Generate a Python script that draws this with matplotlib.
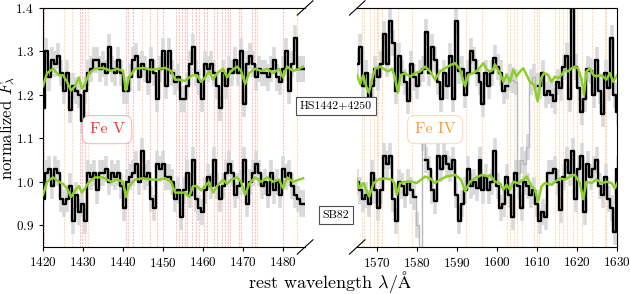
import matplotlib
matplotlib.use('Agg')
import matplotlib.pyplot as plt
import numpy as np

plt.rcParams['font.family'] = 'serif'
plt.rcParams['font.serif'] = ['cmr10', 'DejaVu Serif']
plt.rcParams['mathtext.fontset'] = 'cm'
plt.rcParams['axes.formatter.use_mathtext'] = True

# wavelength grids (rest frame, 0.75 A bins)
wl_left = np.arange(1420.0, 1485.5, 0.75)
wl_right = np.arange(1565.0, 1630.5, 0.75)

# HS1442+4250, Fe V window
hs_left = [1.17, 1.30, 1.24, 1.28, 1.27, 1.29, 1.25, 1.21, 1.25, 1.165, 1.22, 1.21, 1.20, 1.14,
           1.21, 1.25, 1.26, 1.28, 1.28, 1.26, 1.27, 1.25, 1.31, 1.26, 1.25, 1.28, 1.25, 1.21,
           1.21, 1.24, 1.28, 1.29, 1.24, 1.27, 1.26, 1.23, 1.28, 1.25, 1.19, 1.26, 1.30, 1.22,
           1.30, 1.25, 1.23, 1.24, 1.19, 1.19, 1.22, 1.27, 1.31, 1.25, 1.23, 1.19, 1.27, 1.26,
           1.27, 1.25, 1.22, 1.17, 1.25, 1.22, 1.26, 1.25, 1.28, 1.25, 1.30, 1.18, 1.27, 1.29,
           1.27, 1.24, 1.26, 1.25, 1.25, 1.24, 1.26, 1.28, 1.24, 1.23, 1.26, 1.30, 1.21, 1.27,
           1.33, 1.26, 1.26, 1.26]
# SB82, Fe V window
sb_left = [0.96, 1.02, 1.03, 0.99, 1.03, 1.02, 0.96, 0.95, 0.96, 0.99, 0.91, 0.97, 0.93, 0.95,
           0.91, 1.02, 1.01, 1.02, 0.98, 1.02, 1.02, 1.03, 1.00, 1.02, 1.01, 1.02, 0.99, 0.94,
           1.00, 1.01, 1.02, 1.04, 1.00, 1.07, 1.01, 1.02, 0.96, 0.94, 1.04, 1.03, 1.04, 1.01,
           1.01, 1.00, 0.96, 0.98, 0.92, 0.98, 1.02, 0.97, 1.05, 0.96, 0.94, 0.93, 0.98, 1.01,
           0.99, 1.05, 0.99, 0.96, 0.99, 1.02, 1.04, 1.02, 0.97, 0.99, 1.00, 1.05, 0.95, 1.00,
           1.02, 1.04, 1.02, 0.99, 1.00, 0.97, 1.02, 0.98, 1.00, 0.97, 1.03, 1.01, 1.02, 0.99,
           0.97, 0.96, 0.95, 0.95]
# HS1442+4250, Fe IV window
hs_right = [1.27, 1.31, 1.22, 1.25, 1.19, 1.22, 1.26, 1.24, 1.27, 1.34, 1.27, 1.37, 1.32, 1.21,
            1.29, 1.25, 1.23, 1.185, 1.27, 1.24, 1.22, 1.25, 1.26, 1.345, 1.25, 1.31, 1.28, 1.23,
            1.19, 1.25, 1.22, 1.29, 1.19, 1.37, 1.255, 1.26, 1.20, 1.25, 1.30, 1.28, 1.25, 1.23,
            1.18, 1.25, 1.22, 1.25, 1.285, 1.265, 1.25, 1.21, 1.22, 1.24, 1.235, 1.23, 1.02, 1.05,
            1.04, 1.08, 1.23, 1.24, 1.22, 1.22, 1.25, 1.20, 1.21, 1.20, 1.185, 1.23, 1.215, 1.265,
            1.29, 1.19, 1.42, 1.265, 1.215, 1.16, 1.19, 1.26, 1.255, 1.20, 1.28, 1.21, 1.155, 1.25,
            1.215, 1.33, 1.20, 1.16]
# SB82, Fe IV window
sb_right = [1.00, 0.98, 0.96, 0.97, 0.95, 1.02, 0.98, 0.94, 0.98, 1.06, 1.04, 1.06, 0.96, 0.91,
            1.00, 0.99, 0.97, 1.00, 0.98, 0.965, 0.90, 0.80, 1.10, 1.05, 1.03, 0.98, 0.955, 1.06,
            1.03, 1.06, 1.04, 1.03, 1.05, 0.97, 0.91, 0.95, 0.98, 1.03, 0.99, 1.00, 0.985, 1.05,
            0.98, 1.01, 0.98, 1.00, 1.07, 0.99, 0.94, 0.95, 1.01, 0.97, 0.92, 1.02, 0.99, 0.94,
            1.00, 0.99, 0.97, 0.98, 0.95, 0.91, 0.93, 0.92, 1.02, 1.02, 1.03, 1.00, 0.935, 1.01,
            1.05, 1.02, 1.07, 0.96, 1.03, 1.06, 0.93, 1.04, 1.01, 1.03, 1.05, 0.99, 0.97, 1.01,
            0.96, 0.94, 0.885, 1.03]
err_hs = 0.03
err_sb = 0.03

# masked (bad) regions, drawn grey only
mask_hs = (1602.9, 1610.4)
mask_sb = (1579.6, 1581.9)

# model spectra
mod_left_wl = [1420, 1421, 1422.5, 1424, 1425, 1426, 1427, 1428, 1429, 1429.7, 1430.5, 1431.5,
               1433, 1435, 1437, 1438.5, 1440, 1440.7, 1441.5, 1443, 1445, 1447, 1449, 1450.5,
               1452, 1453, 1454, 1455.5, 1456.5, 1457.5, 1458.5, 1459.5, 1460.5, 1461.5, 1462.5,
               1463.5, 1465, 1466, 1467, 1468.5, 1469.5, 1470.5, 1471.5, 1473, 1474.5, 1476,
               1477.5, 1479, 1480, 1481, 1482.5, 1484, 1485]
mod_hs_left = [1.22, 1.25, 1.26, 1.245, 1.245, 1.23, 1.21, 1.22, 1.24, 1.215, 1.225, 1.25,
               1.26, 1.262, 1.255, 1.26, 1.255, 1.21, 1.24, 1.26, 1.262, 1.258, 1.26, 1.262,
               1.255, 1.235, 1.235, 1.232, 1.24, 1.245, 1.245, 1.23, 1.24, 1.255, 1.235,
               1.25, 1.26, 1.24, 1.255, 1.265, 1.255, 1.225, 1.25, 1.26, 1.255, 1.26,
               1.25, 1.26, 1.24, 1.265, 1.255, 1.26, 1.265]
mod_sb_left = [0.97, 1.00, 1.01, 1.00, 0.995, 0.985, 0.965, 0.98, 0.99, 0.975, 0.985, 1.00,
               1.01, 1.01, 1.00, 1.005, 1.00, 0.965, 0.99, 1.005, 1.008, 1.005, 1.005, 1.008,
               1.00, 0.975, 0.975, 0.975, 0.965, 0.99, 0.99, 0.98, 0.99, 1.00, 0.975,
               0.99, 1.005, 0.995, 1.005, 1.01, 1.00, 0.97, 0.995, 1.01, 1.00, 1.01,
               1.00, 1.005, 0.985, 1.01, 1.00, 1.005, 1.008]

mod_hs_right_wl = [1565.0, 1565.75, 1566.5, 1567.25, 1567.9, 1568.7, 1569.5, 1570.75, 1572.0,
                   1572.8, 1573.7, 1574.3, 1575.2, 1575.8, 1577.0, 1578.25, 1579.5, 1580.75,
                   1582.0, 1583.25, 1584.5, 1585.75, 1587.0, 1588.25, 1589.5, 1590.75, 1592.0,
                   1592.8, 1594.1, 1595.3, 1596.6, 1597.4, 1598.3, 1599.0, 1599.5, 1600.75,
                   1601.6, 1602.4, 1603.25, 1604.1, 1604.9, 1605.75, 1606.6, 1607.4, 1608.25,
                   1609.3, 1610.2, 1611.0, 1611.8, 1612.8, 1613.7, 1614.5, 1615.3, 1616.2,
                   1617.0, 1617.8, 1618.7, 1619.5, 1620.3, 1621.2, 1621.8, 1622.4, 1623.25,
                   1624.1, 1624.9, 1625.75, 1626.6, 1627.4, 1628.25, 1629.1, 1629.9, 1630.5]
mod_hs_right = [1.245, 1.225, 1.245, 1.22, 1.205, 1.235, 1.26, 1.265, 1.258,
                1.254, 1.26, 1.245, 1.205, 1.245, 1.25, 1.242, 1.25, 1.254,
                1.265, 1.254, 1.235, 1.254, 1.261, 1.268, 1.273, 1.258, 1.22,
                1.246, 1.25, 1.258, 1.273, 1.258, 1.254, 1.258, 1.27, 1.25,
                1.23, 1.246, 1.23, 1.258, 1.242, 1.254, 1.261, 1.246, 1.23,
                1.223, 1.185, 1.238, 1.25, 1.246, 1.23, 1.242, 1.238, 1.246,
                1.258, 1.254, 1.261, 1.265, 1.261, 1.235, 1.20, 1.254, 1.261,
                1.246, 1.242, 1.246, 1.242, 1.235, 1.25, 1.23, 1.242, 1.25]
mod_sb_right_wl = [1564.9, 1565.5, 1566.6, 1567.4, 1568.0, 1569.1, 1570.3, 1572.0, 1573.7,
                   1574.5, 1574.9, 1575.75, 1577.0, 1578.7, 1579.9, 1582.0, 1583.25, 1584.5,
                   1585.75, 1587.4, 1589.5, 1591.0, 1592.0, 1593.25, 1594.5, 1596.2, 1597.8,
                   1598.25, 1599.5, 1600.75, 1601.6, 1602.4, 1603.25, 1604.1, 1605.3, 1606.6,
                   1607.4, 1608.7, 1609.5, 1610.3, 1611.2, 1612.0, 1613.7, 1614.5, 1615.75,
                   1617.0, 1618.25, 1619.5, 1620.75, 1621.6, 1622.4, 1623.7, 1624.9, 1626.2,
                   1627.4, 1628.7, 1629.5, 1630.3]
mod_sb_right = [1.005, 0.985, 0.997, 0.978, 0.966, 0.997, 1.005, 1.008, 1.005,
                0.993, 0.97, 0.997, 1.0, 1.0, 0.997, 1.012, 1.008, 0.997,
                1.005, 1.012, 1.016, 1.005, 0.978, 1.0, 1.008, 1.016, 1.012,
                1.016, 1.0, 0.997, 0.982, 0.993, 0.982, 1.0, 0.997, 1.005,
                1.012, 0.99, 0.982, 0.955, 0.99, 0.997, 0.993, 1.0, 1.008,
                1.005, 1.012, 1.016, 0.997, 0.96, 1.0, 0.997, 1.005, 0.997,
                1.0, 0.997, 0.985, 1.0]

# line lists
fe5_lines = [1420.33, 1429.25, 1429.67, 1430.58, 1440.75, 1441.17, 1442.42, 1446.75, 1448.42,
             1450.08, 1453.25, 1454.0, 1454.83, 1455.5, 1456.08, 1457.33, 1458.25, 1459.08,
             1460.25, 1460.92, 1462.75, 1463.42, 1464.67, 1465.5, 1466.17, 1466.83, 1469.08,
             1469.42, 1472.33, 1473.0, 1479.92]
fe4_lines = [1425.33, 1427.17, 1431.33, 1444.67, 1473.42, 1483.42,
             1566.17, 1566.58, 1568.08, 1569.08, 1569.92, 1570.33, 1571.17, 1575.33, 1578.67,
             1592.25, 1596.17, 1602.42, 1603.25, 1604.25, 1605.08, 1606.17, 1609.25, 1609.92,
             1610.58, 1614.5, 1615.58, 1616.58, 1617.42, 1619.08, 1619.92, 1621.17, 1623.92,
             1627.0, 1627.42]

fig = plt.figure(figsize=(6.3, 2.94), dpi=100)
ax1 = fig.add_axes([0.0683, 0.160, 0.416, 0.813])
ax2 = fig.add_axes([0.567, 0.160, 0.412, 0.813])


def draw(ax, wl, flux, err, mask, gmod_wl, gmod):
    flux = np.array(flux, dtype=float)
    ax.errorbar(wl, flux, yerr=err, fmt='none', ecolor='#d9d9d9', elinewidth=2.6, zorder=2)
    black = flux.copy()
    if mask is not None:
        bad = (wl > mask[0]) & (wl < mask[1])
        ax.step(wl, flux, where='mid', color='#b8b8b8', lw=1.0, zorder=3)
        black[bad] = np.nan
    ax.step(wl, black, where='mid', color='k', lw=1.7, zorder=4)
    ax.plot(gmod_wl, gmod, color='#8ccf2a', lw=1.8, zorder=5)


for ax in (ax1, ax2):
    for l in fe4_lines:
        ax.axvline(l, color='#ff9a2e', lw=0.8, ls=(0, (2, 1)), alpha=0.35, zorder=1)
for l in fe5_lines:
    ax1.axvline(l, color='#ff3030', lw=0.8, ls=(0, (2, 1)), alpha=0.3, zorder=1)

draw(ax1, wl_left, hs_left, err_hs, None, mod_left_wl, mod_hs_left)
draw(ax1, wl_left, sb_left, err_sb, None, mod_left_wl, mod_sb_left)
draw(ax2, wl_right, hs_right, err_hs, mask_hs, mod_hs_right_wl, mod_hs_right)
draw(ax2, wl_right, sb_right, err_sb, mask_sb, mod_sb_right_wl, mod_sb_right)

ax1.set_xlim(1420, 1485.5)
ax2.set_xlim(1565, 1630)
for ax in (ax1, ax2):
    ax.set_ylim(0.85, 1.4)
    ax.tick_params(labelsize=9.5, direction='out', length=3)
ax1.set_xticks([1420, 1430, 1440, 1450, 1460, 1470, 1480])
ax2.set_xticks([1570, 1580, 1590, 1600, 1610, 1620, 1630])
ax1.set_yticks([0.9, 1.0, 1.1, 1.2, 1.3, 1.4])
ax1.spines['right'].set_visible(False)
ax2.spines['left'].set_visible(False)
ax2.tick_params(axis='y', left=False, labelleft=False)
ax1.set_ylabel(r'normalized $F_\lambda$', fontsize=12)
ax1.yaxis.set_label_coords(-0.10, 0.5)
fig.text(0.524, 1 - 288 / 294, r'rest wavelength $\lambda/\mathrm{\AA}$', fontsize=13,
         ha='center', va='baseline')

# broken axis marks
d = 0.03
kw = dict(color='k', lw=0.8, clip_on=False)
ax1.plot((1 - d, 1 + d), (1 - d, 1 + d), transform=ax1.transAxes, **kw)
ax1.plot((1 - d, 1 + d), (-d, d), transform=ax1.transAxes, **kw)
ax2.plot((-d, d), (1 - d, 1 + d), transform=ax2.transAxes, **kw)
ax2.plot((-d, d), (-d, d), transform=ax2.transAxes, **kw)

ax1.text(1436.0, 1.12, 'Fe V', color='#ff3030', fontsize=11.5, ha='center', va='center',
         zorder=6, bbox=dict(boxstyle='round,pad=0.45', fc='white',
                             ec=(1.0, 0.2, 0.2, 0.35), lw=0.8))
ax2.text(1584.5, 1.12, 'Fe IV', color='#ff9a2e', fontsize=11.5, ha='center', va='center',
         zorder=6, bbox=dict(boxstyle='round,pad=0.45', fc='white',
                             ec=(1.0, 0.6, 0.2, 0.35), lw=0.8))

fig.text(336 / 630, 1 - 106 / 294, 'HS1442+4250', fontsize=8.5, ha='center', va='center',
         bbox=dict(boxstyle='square,pad=0.35', fc='white', ec='0.3', lw=0.8))
fig.text(336 / 630, 1 - 215 / 294, 'SB82', fontsize=8.5, ha='center', va='center',
         bbox=dict(boxstyle='square,pad=0.35', fc='white', ec='0.3', lw=0.8))

plt.savefig('out.png', dpi=100)
